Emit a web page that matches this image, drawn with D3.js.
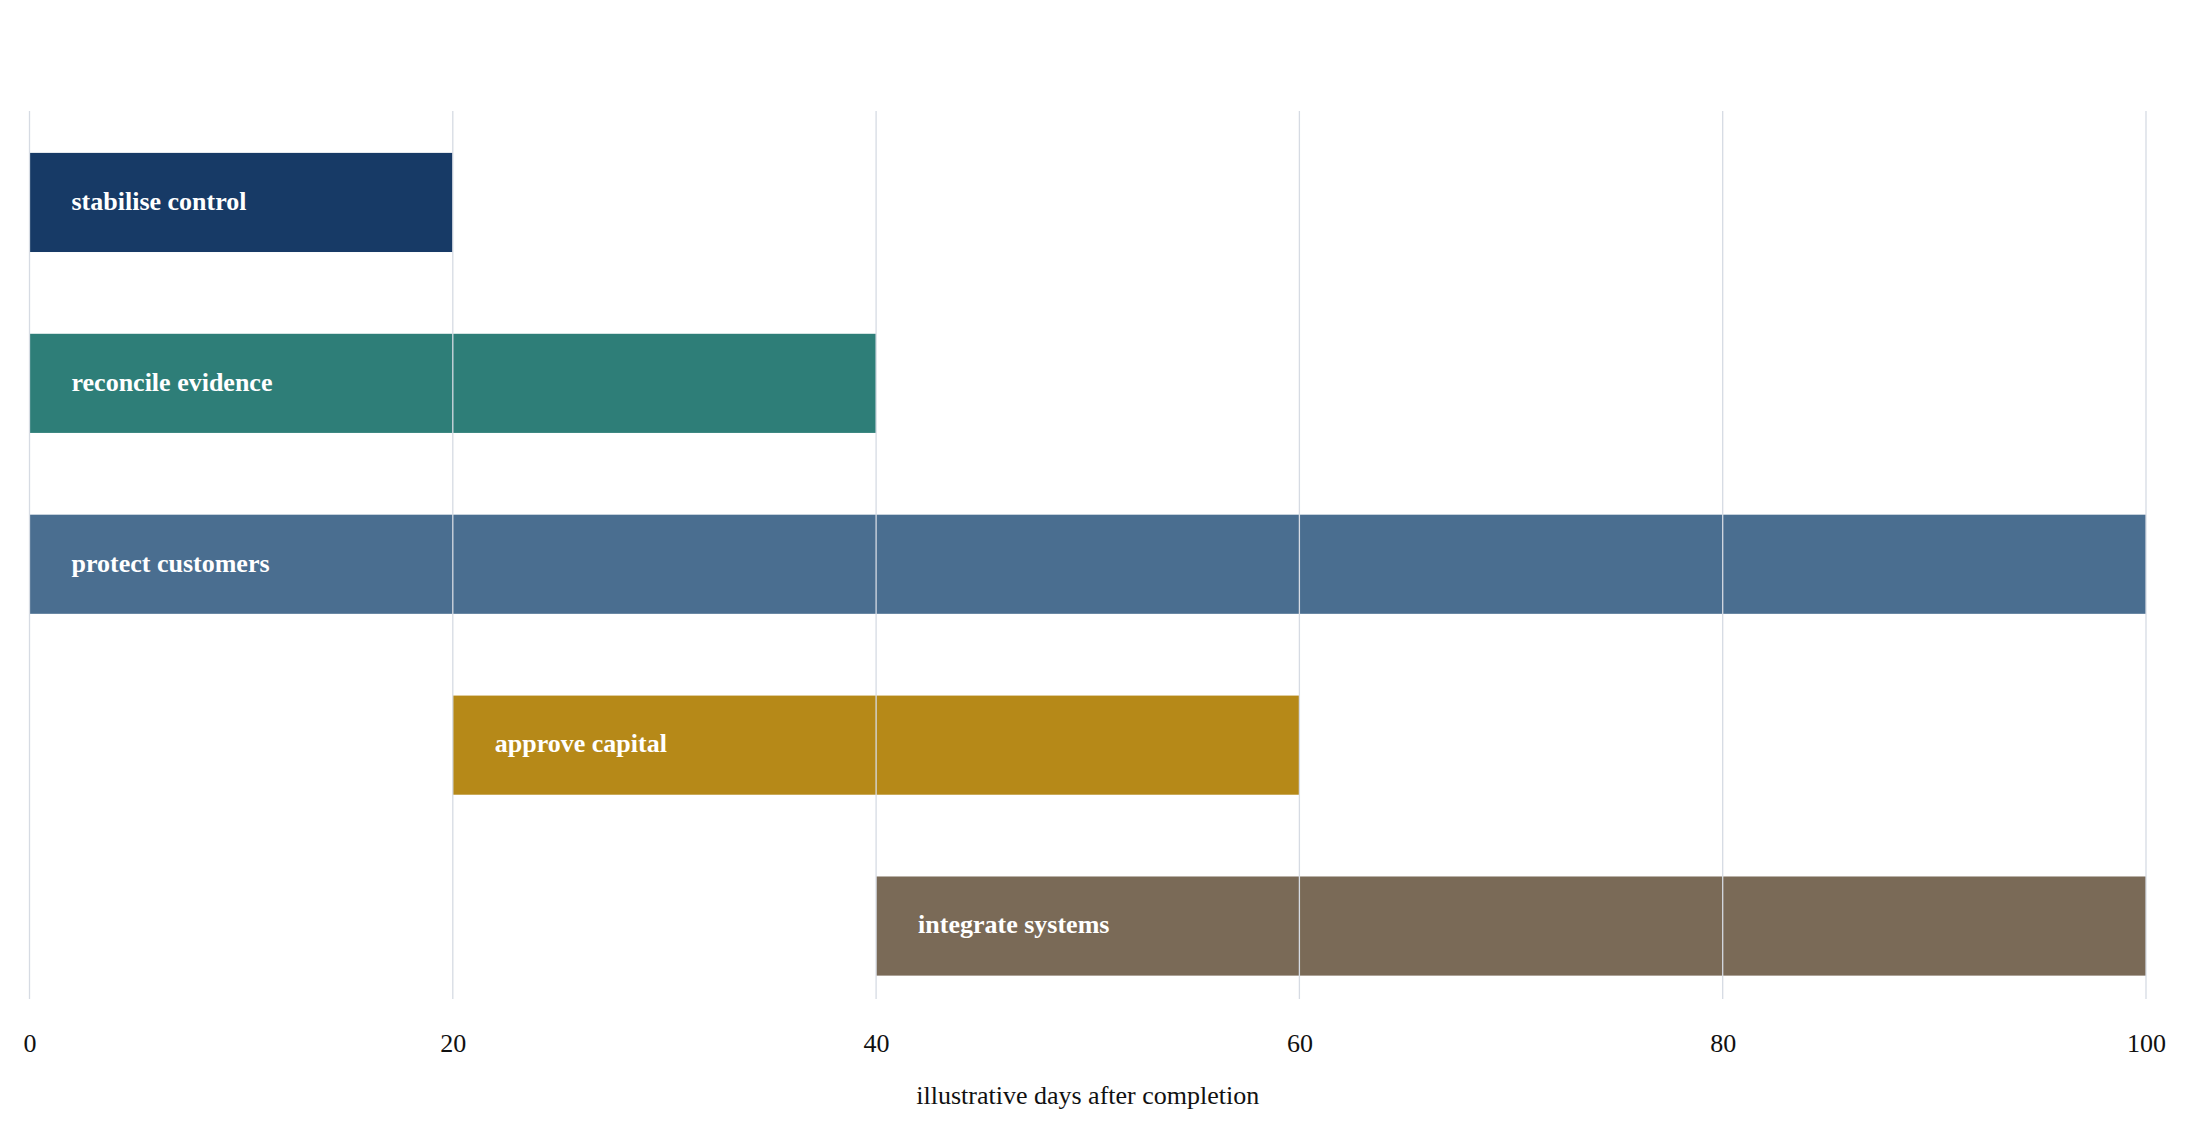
<!DOCTYPE html>
<html>
<head>
<meta charset="utf-8">
<script src="https://cdn.jsdelivr.net/npm/d3@7"></script>
<style>
  body { margin: 0; background: #fff; }
  svg { display: block; }
  text { font-family: "Liberation Serif", "Times New Roman", serif; }
</style>
</head>
<body>
<svg id="chart"></svg>
<script>
// tasks, start and end day
var tasks = ['stabilise control', 'reconcile evidence', 'protect customers', 'approve capital', 'integrate systems'];
var starts = [0, 0, 0, 20, 40];
var ends = [20, 40, 100, 60, 100];
var colors = ['#173a66', '#2e7e78', '#4a6e90', '#b68918', '#7a6a57'];
var xTicks = [0, 20, 40, 60, 80, 100];

var width = 2188, height = 1131;
var svg = d3.select('#chart').attr('width', width).attr('height', height);

var x = d3.scaleLinear().domain([0, 100]).range([29.5, 2146]);
var y = d3.scaleBand().domain(tasks).range([112, 1016.5]).paddingInner(0.452).paddingOuter(0.226);

var gridTop = 111, gridBottom = 999;

// bars
svg.append('g').selectAll('rect')
  .data(tasks)
  .join('rect')
  .attr('x', function(d, i) { return x(starts[i]); })
  .attr('y', function(d) { return y(d); })
  .attr('width', function(d, i) { return x(ends[i]) - x(starts[i]); })
  .attr('height', y.bandwidth())
  .attr('fill', function(d, i) { return colors[i]; });

// grid lines sit on top of the bars
svg.append('g').selectAll('line')
  .data(xTicks)
  .join('line')
  .attr('x1', function(d) { return x(d); })
  .attr('x2', function(d) { return x(d); })
  .attr('y1', gridTop)
  .attr('y2', gridBottom)
  .attr('stroke', '#d6dbe3')
  .attr('stroke-width', 1.3);

// bar labels
svg.append('g').selectAll('text')
  .data(tasks)
  .join('text')
  .attr('x', function(d, i) { return x(starts[i]) + 42; })
  .attr('y', function(d) { return y(d) + y.bandwidth() / 2; })
  .attr('dy', '0.28em')
  .attr('fill', '#fff')
  .attr('font-weight', 'bold')
  .attr('font-size', 26)
  .text(function(d) { return d; });

// x axis, no domain line or tick marks
var xAxis = d3.axisBottom(x).tickValues(xTicks).tickSize(0).tickPadding(0);
var ax = svg.append('g').attr('transform', 'translate(0,1034)').call(xAxis);
ax.select('.domain').remove();
ax.selectAll('text')
  .attr('font-family', '"Liberation Serif", "Times New Roman", serif')
  .attr('font-size', 26)
  .attr('fill', '#111');

svg.append('text')
  .attr('x', (x.range()[0] + x.range()[1]) / 2)
  .attr('y', 1104)
  .attr('text-anchor', 'middle')
  .attr('font-size', 26)
  .attr('fill', '#111')
  .text('illustrative days after completion');
</script>
</body>
</html>
